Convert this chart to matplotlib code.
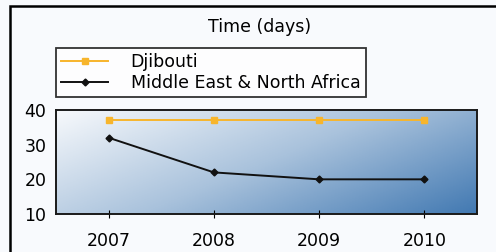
import matplotlib
matplotlib.use("Agg")
import matplotlib.pyplot as plt
import numpy as np
from matplotlib.colors import LinearSegmentedColormap
from matplotlib.patches import Rectangle

years = ["2007", "2008", "2009", "2010"]
djibouti = [37, 37, 37, 37]
mena = [32, 22, 20, 20]

fig = plt.figure(figsize=(4.96, 2.52), dpi=100)
fig.patch.set_facecolor("#f8fafd")

# outer frame (runs off the right and bottom edges)
fig.patches.append(Rectangle((10 / 496, -0.05), 1.2, 1 - 6 / 252 + 0.05,
                             transform=fig.transFigure, fill=False,
                             edgecolor="black", linewidth=1.8))

ax = fig.add_axes([56 / 496, 38 / 252, 421 / 496, 104 / 252])

# gradient background, light top-left to blue bottom-right
cmap = LinearSegmentedColormap.from_list("bg", ["#f7f9fc", "#a9c2dc", "#4279b2"])
gx, gy = np.meshgrid(np.linspace(0, 1, 300), np.linspace(0, 1, 100))
grad = (gx * 0.75 + gy * 0.45) / 1.2
ax.imshow(grad, cmap=cmap, extent=[0, 1, 0, 1], transform=ax.transAxes,
          aspect="auto", origin="upper", zorder=0)

x = np.arange(len(years))
ax.plot(x, djibouti, color="#f7b52c", linewidth=1.4, marker="s", markersize=4,
        markerfacecolor="#f7b52c", markeredgecolor="#f7b52c", label="Djibouti", zorder=3)
ax.plot(x, mena, color="#111111", linewidth=1.4, marker="D", markersize=3.5,
        markerfacecolor="#111111", label="Middle East & North Africa", zorder=3)

ax.set_xlim(-0.5, 3.5)
ax.set_ylim(10, 40)
ax.set_yticks([10, 20, 30, 40])
ax.set_xticks(x)
ax.set_xticklabels(years)
ax.tick_params(axis="both", labelsize=12.5, length=0, pad=7)
ax.tick_params(axis="x", length=6, direction="inout", pad=10)
for s in ax.spines.values():
    s.set_linewidth(1.4)
    s.set_color("#1a1a1a")

fig.text(260 / 496, 1 - 27 / 252, "Time (days)", ha="center", va="center", fontsize=12.5)

leg = ax.legend(loc="lower left", bbox_to_anchor=(56 / 496, 1 - 97 / 252),
                bbox_transform=fig.transFigure, fontsize=12.5, frameon=True,
                fancybox=False, handlelength=2.7, borderpad=0.3, labelspacing=0.15,
                handletextpad=1.3, borderaxespad=0)
leg.get_frame().set_edgecolor("black")
leg.get_frame().set_linewidth(1.3)
leg.get_frame().set_facecolor("white")

fig.savefig("out.png", dpi=100, facecolor=fig.get_facecolor())
